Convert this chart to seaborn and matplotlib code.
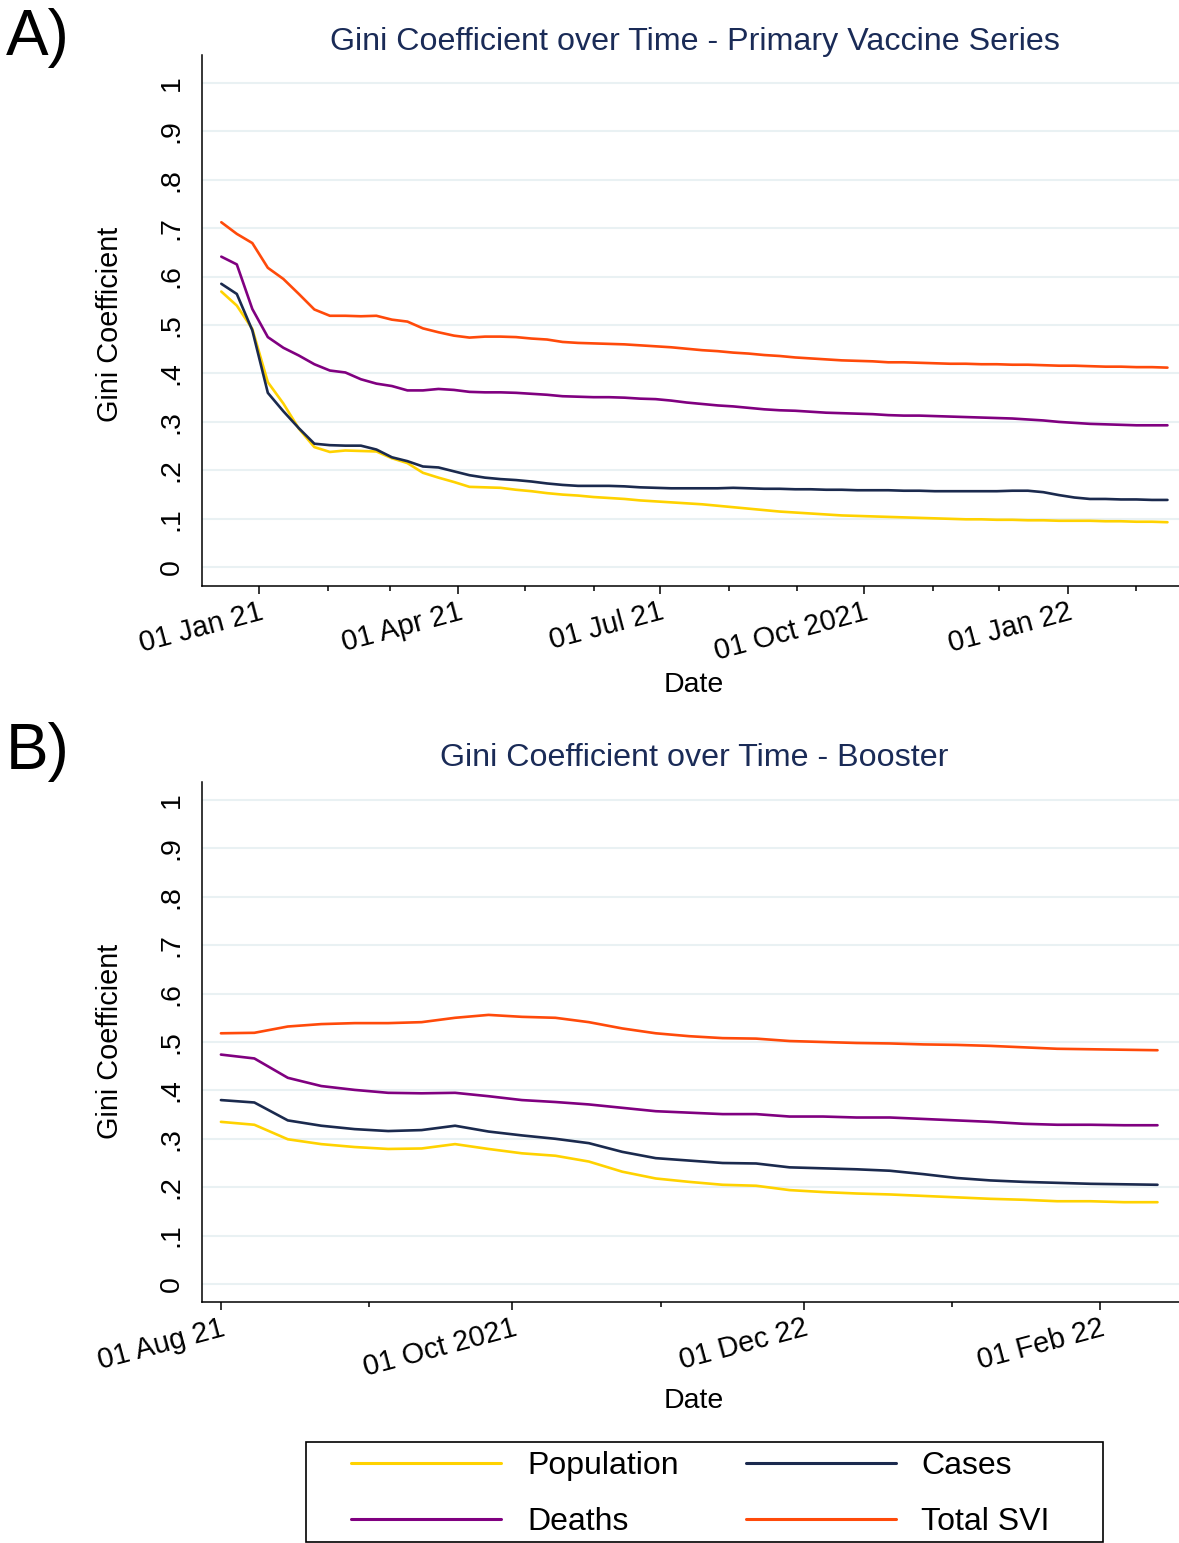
import pandas as pd
import matplotlib.pyplot as plt
from matplotlib.lines import Line2D
from matplotlib.patches import Rectangle
import seaborn as sns

# Panel A - primary vaccine series, weekly
dates_a = pd.date_range("2020-12-15", periods=62, freq="7D")
pop_a = [0.569, 0.540, 0.492, 0.382, 0.338, 0.286, 0.248, 0.238, 0.241, 0.240,
         0.239, 0.225, 0.215, 0.195, 0.185, 0.176, 0.166, 0.165, 0.164, 0.160,
         0.157, 0.153, 0.150, 0.148, 0.145, 0.143, 0.141, 0.138, 0.136, 0.134,
         0.132, 0.130, 0.127, 0.124, 0.121, 0.118, 0.115, 0.113, 0.111, 0.109,
         0.107, 0.106, 0.105, 0.104, 0.103, 0.102, 0.101, 0.100, 0.099, 0.099,
         0.098, 0.098, 0.097, 0.097, 0.096, 0.096, 0.096, 0.095, 0.095, 0.094,
         0.094, 0.093]
cases_a = [0.585, 0.564, 0.489, 0.360, 0.322, 0.287, 0.255, 0.252, 0.251, 0.251,
           0.243, 0.227, 0.219, 0.208, 0.206, 0.198, 0.190, 0.185, 0.182, 0.180,
           0.177, 0.173, 0.170, 0.168, 0.168, 0.168, 0.167, 0.165, 0.164, 0.163,
           0.163, 0.163, 0.163, 0.164, 0.163, 0.162, 0.162, 0.161, 0.161, 0.160,
           0.160, 0.159, 0.159, 0.159, 0.158, 0.158, 0.157, 0.157, 0.157, 0.157,
           0.157, 0.158, 0.158, 0.155, 0.149, 0.144, 0.141, 0.141, 0.140, 0.140,
           0.139, 0.139]
deaths_a = [0.641, 0.625, 0.533, 0.475, 0.453, 0.437, 0.419, 0.406, 0.402, 0.388,
            0.379, 0.374, 0.365, 0.365, 0.368, 0.366, 0.362, 0.361, 0.361, 0.360,
            0.358, 0.356, 0.353, 0.352, 0.351, 0.351, 0.350, 0.348, 0.347, 0.344,
            0.340, 0.337, 0.334, 0.332, 0.329, 0.326, 0.324, 0.323, 0.321, 0.319,
            0.318, 0.317, 0.316, 0.314, 0.313, 0.313, 0.312, 0.311, 0.310, 0.309,
            0.308, 0.307, 0.305, 0.303, 0.300, 0.298, 0.296, 0.295, 0.294, 0.293,
            0.293, 0.293]
svi_a = [0.712, 0.688, 0.669, 0.618, 0.595, 0.564, 0.532, 0.519, 0.519, 0.518,
         0.519, 0.511, 0.507, 0.493, 0.485, 0.478, 0.474, 0.476, 0.476, 0.475,
         0.472, 0.470, 0.465, 0.463, 0.462, 0.461, 0.460, 0.458, 0.456, 0.454,
         0.451, 0.448, 0.446, 0.443, 0.441, 0.438, 0.436, 0.433, 0.431, 0.429,
         0.427, 0.426, 0.425, 0.423, 0.423, 0.422, 0.421, 0.420, 0.420, 0.419,
         0.419, 0.418, 0.418, 0.417, 0.416, 0.416, 0.415, 0.414, 0.414, 0.413,
         0.413, 0.412]
major_a = ["2021-01-01", "2021-04-01", "2021-07-01", "2021-10-01", "2022-01-01"]
major_labels_a = ["01 Jan 21", "01 Apr 21", "01 Jul 21", "01 Oct 2021", "01 Jan 22"]
minor_a = ["2021-02-01", "2021-03-01", "2021-05-01", "2021-06-01", "2021-08-01",
           "2021-09-01", "2021-11-01", "2021-12-01", "2022-02-01"]

# Panel B - booster, weekly
dates_b = pd.date_range("2021-08-01", periods=29, freq="7D")
pop_b = [0.335, 0.329, 0.299, 0.289, 0.283, 0.279, 0.280, 0.289, 0.279, 0.270,
         0.265, 0.253, 0.232, 0.218, 0.211, 0.205, 0.203, 0.194, 0.190, 0.187,
         0.185, 0.182, 0.179, 0.176, 0.174, 0.171, 0.171, 0.169, 0.169]
cases_b = [0.380, 0.375, 0.338, 0.327, 0.320, 0.316, 0.318, 0.327, 0.315, 0.307,
           0.300, 0.291, 0.273, 0.260, 0.255, 0.250, 0.249, 0.241, 0.239, 0.237,
           0.234, 0.227, 0.219, 0.214, 0.211, 0.209, 0.207, 0.206, 0.205]
deaths_b = [0.474, 0.466, 0.426, 0.409, 0.401, 0.395, 0.394, 0.395, 0.388, 0.380,
            0.376, 0.371, 0.364, 0.357, 0.354, 0.351, 0.351, 0.346, 0.346, 0.344,
            0.344, 0.341, 0.338, 0.335, 0.331, 0.329, 0.329, 0.328, 0.328]
svi_b = [0.518, 0.519, 0.532, 0.537, 0.539, 0.539, 0.541, 0.550, 0.556, 0.552,
         0.550, 0.541, 0.528, 0.518, 0.512, 0.508, 0.507, 0.502, 0.500, 0.498,
         0.497, 0.495, 0.494, 0.492, 0.489, 0.486, 0.485, 0.484, 0.483]
major_b = ["2021-08-01", "2021-10-01", "2021-12-01", "2022-02-01"]
major_labels_b = ["01 Aug 21", "01 Oct 2021", "01 Dec 22", "01 Feb 22"]
minor_b = ["2021-09-01", "2021-11-01", "2022-01-01"]

yticks = [0, 0.1, 0.2, 0.3, 0.4, 0.5, 0.6, 0.7, 0.8, 0.9, 1]
ytick_labels = ["0", ".1", ".2", ".3", ".4", ".5", ".6", ".7", ".8", ".9", "1"]

series = ["Population", "Cases", "Deaths", "Total SVI"]
palette = {"Population": "#FFD200", "Cases": "#1B2A4E",
           "Deaths": "#800080", "Total SVI": "#FF4A0A"}
title_color = "#1A2B57"

sns.set_theme(style="white")
plt.rcParams['font.family'] = ['Liberation Sans', 'DejaVu Sans']
plt.rcParams.update({"text.color": "black", "axes.labelcolor": "black",
                     "xtick.color": "black", "ytick.color": "black"})

W, H = 1179, 1543
fig = plt.figure(figsize=(W / 100, H / 100), dpi=100)
ax_a = fig.add_axes([202 / W, 1 - 586 / H, 977 / W, (586 - 55) / H])
ax_b = fig.add_axes([202 / W, 1 - 1302 / H, 977 / W, (1302 - 782) / H])


def draw_panel(ax, dates, pop, cases, deaths, svi, major, major_labels, minor,
               xlim, ylim):
    df = pd.DataFrame({"Date": dates, "Population": pop, "Cases": cases,
                       "Deaths": deaths, "Total SVI": svi})
    long = df.melt(id_vars="Date", var_name="Series", value_name="Gini")
    sns.lineplot(data=long, x="Date", y="Gini", hue="Series", hue_order=series,
                 palette=palette, linewidth=1.9, errorbar=None, legend=False, ax=ax)
    ax.set_xlim(pd.Timestamp(xlim[0]), pd.Timestamp(xlim[1]))
    ax.set_ylim(*ylim)
    ax.set_yticks(yticks)
    ax.set_yticklabels(ytick_labels, rotation=90, va="center", fontsize=20.5)
    ax.set_xticks(pd.to_datetime(major))
    ax.set_xticklabels(major_labels, rotation=15, ha="right",
                       rotation_mode="anchor", fontsize=20.8)
    ax.set_xticks(pd.to_datetime(minor), minor=True)
    ax.tick_params(axis="y", length=8.5, width=1.1, pad=4, color="black")
    ax.tick_params(axis="x", which="major", length=5.5, width=1.1, pad=3,
                   color="black", bottom=True)
    ax.tick_params(axis="x", which="minor", length=3.8, width=1.1,
                   color="black", bottom=True)
    ax.yaxis.grid(True, color="#E9F1F3", linewidth=1.5)
    ax.xaxis.grid(False)
    for side in ["top", "right"]:
        ax.spines[side].set_visible(False)
    for side in ["left", "bottom"]:
        ax.spines[side].set_color("black")
        ax.spines[side].set_linewidth(1.1)
    ax.set_xlabel("Date", fontsize=20.5)
    ax.set_ylabel("Gini Coefficient", fontsize=20.8)
    ax.xaxis.label.set_va("center")
    ax.yaxis.label.set_va("center")


draw_panel(ax_a, dates_a, pop_a, cases_a, deaths_a, svi_a, major_a,
           major_labels_a, minor_a, ("2020-12-06 07:00", "2022-02-20 05:00"),
           (-0.0386, 1.0571))
ax_a.xaxis.set_label_coords(0.5036, -0.1864)
ax_a.yaxis.set_label_coords(-0.0942, 0.4934)

draw_panel(ax_b, dates_b, pop_b, cases_b, deaths_b, svi_b, major_b,
           major_labels_b, minor_b, ("2021-07-28 01:00", "2022-02-17 12:00"),
           (-0.0372, 1.0372))
ax_b.xaxis.set_label_coords(0.5036, -0.190)
ax_b.yaxis.set_label_coords(-0.0942, 0.502)

fig.text(695 / W, 1 - 42 / H, "Gini Coefficient over Time - Primary Vaccine Series",
         ha="center", va="center", fontsize=23.2, color=title_color)
fig.text(694 / W, 1 - 758 / H, "Gini Coefficient over Time - Booster",
         ha="center", va="center", fontsize=23.2, color=title_color)
fig.text(6 / W, 1 - 38 / H, "A)", ha="left", va="center", fontsize=46)
fig.text(6 / W, 1 - 752 / H, "B)", ha="left", va="center", fontsize=46)

leg_order = ["Population", "Deaths", "Cases", "Total SVI"]
handles = [Line2D([], [], color=palette[s], linewidth=2.2) for s in leg_order]
fig.legend(handles, leg_order, ncol=2, loc="center",
           bbox_to_anchor=(700.5 / W, 1 - 1494 / H), frameon=False, fontsize=23,
           handlelength=4.7, handletextpad=0.8, columnspacing=2.1,
           labelspacing=0.82)
fig.add_artist(Rectangle((306 / W, 1.5 / H), 797 / W, 100 / H,
                         transform=fig.transFigure, fill=False,
                         edgecolor="black", linewidth=1.2))

fig.savefig("out.png", dpi=100)
